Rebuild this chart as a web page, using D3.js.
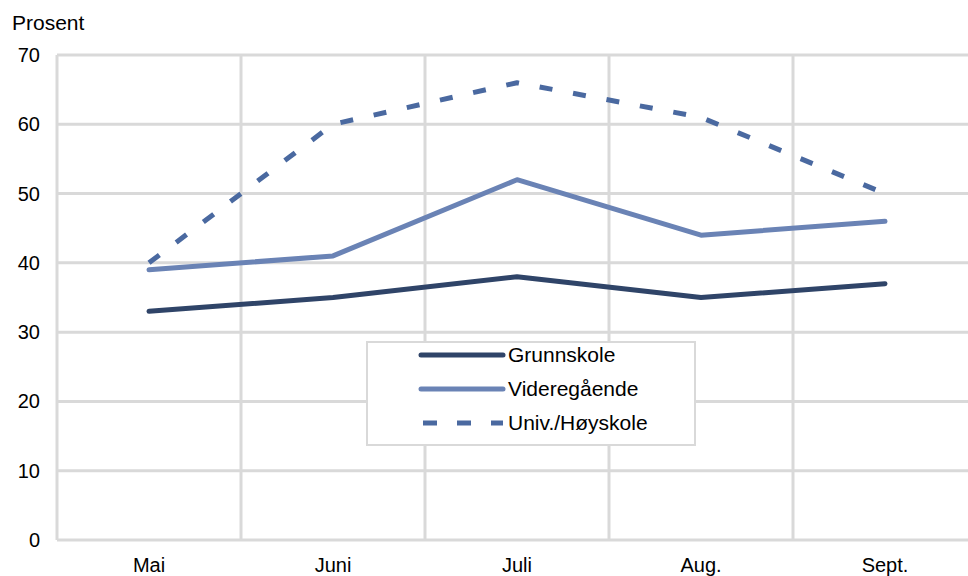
<!DOCTYPE html>
<html>
<head>
<meta charset="utf-8">
<script src="https://cdnjs.cloudflare.com/ajax/libs/d3/7.8.5/d3.min.js"></script>
<style>
  html, body { margin: 0; padding: 0; background: #fff; }
  svg { display: block; font-family: "Liberation Sans", Arial, sans-serif; }
</style>
</head>
<body>
<svg id="chart" width="968" height="576"></svg>
<script>
const months = ['Mai', 'Juni', 'Juli', 'Aug.', 'Sept.'];
const grunnskole = [33, 35, 38, 35, 37];
const videregaende = [39, 41, 52, 44, 46];
const univ = [40, 60, 66, 61, 50];
const yTicks = [0, 10, 20, 30, 40, 50, 60, 70];

const series = [
  { name: 'Grunnskole', values: grunnskole, color: '#2f4468', dash: null },
  { name: 'Videregående', values: videregaende, color: '#6a83b5', dash: null },
  { name: 'Univ./Høyskole', values: univ, color: '#4a69a0', dash: '13,21' }
];

const svg = d3.select('#chart');
const plotLeft = 57, plotRight = 977, plotTop = 55, plotBottom = 540;

const x = d3.scaleBand().domain(months).range([plotLeft, plotRight]);
const y = d3.scaleLinear().domain([0, 70]).range([plotBottom, plotTop]);

const grid = svg.append('g').attr('stroke', '#d9d9d9').attr('stroke-width', 3);
grid.selectAll('line.h')
  .data(yTicks)
  .enter().append('line')
  .attr('x1', plotLeft).attr('x2', plotRight)
  .attr('y1', d => y(d)).attr('y2', d => y(d));
grid.selectAll('line.v')
  .data(months.map(m => x(m)))
  .enter().append('line')
  .attr('x1', d => d).attr('x2', d => d)
  .attr('y1', plotTop).attr('y2', plotBottom);

svg.append('g').selectAll('text')
  .data(yTicks)
  .enter().append('text')
  .attr('x', 40)
  .attr('y', d => y(d) + 7)
  .attr('text-anchor', 'end')
  .style('font-size', '20px')
  .text(d => d);

svg.append('g').selectAll('text')
  .data(months)
  .enter().append('text')
  .attr('x', d => x(d) + x.bandwidth() / 2)
  .attr('y', 572)
  .attr('text-anchor', 'middle')
  .style('font-size', '20px')
  .text(d => d);

svg.append('text')
  .attr('x', 12).attr('y', 30)
  .style('font-size', '21px')
  .text('Prosent');

const line = d3.line()
  .x((d, i) => x(months[i]) + x.bandwidth() / 2)
  .y(d => y(d));

svg.append('g').selectAll('path')
  .data(series)
  .enter().append('path')
  .attr('d', d => line(d.values))
  .attr('fill', 'none')
  .attr('stroke', d => d.color)
  .attr('stroke-width', 5)
  .attr('stroke-linecap', d => d.dash ? 'butt' : 'round')
  .attr('stroke-linejoin', 'round')
  .attr('stroke-dasharray', d => d.dash);

// legend
const legend = svg.append('g');
legend.append('rect')
  .attr('x', 367).attr('y', 342)
  .attr('width', 328).attr('height', 103)
  .attr('fill', '#fff')
  .attr('stroke', '#d9d9d9')
  .attr('stroke-width', 2);

const rows = legend.selectAll('g.row')
  .data(series)
  .enter().append('g')
  .attr('transform', (d, i) => `translate(0,${355 + i * 34})`);
rows.append('line')
  .attr('x1', d => d.dash ? 423 : 421).attr('x2', 503)
  .attr('y1', 0).attr('y2', 0)
  .attr('stroke', d => d.color)
  .attr('stroke-width', 5)
  .attr('stroke-linecap', d => d.dash ? 'butt' : 'round')
  .attr('stroke-dasharray', d => d.dash ? '14,20' : null);
rows.append('text')
  .attr('x', 508).attr('y', 7)
  .style('font-size', '21px')
  .text(d => d.name);
</script>
</body>
</html>
